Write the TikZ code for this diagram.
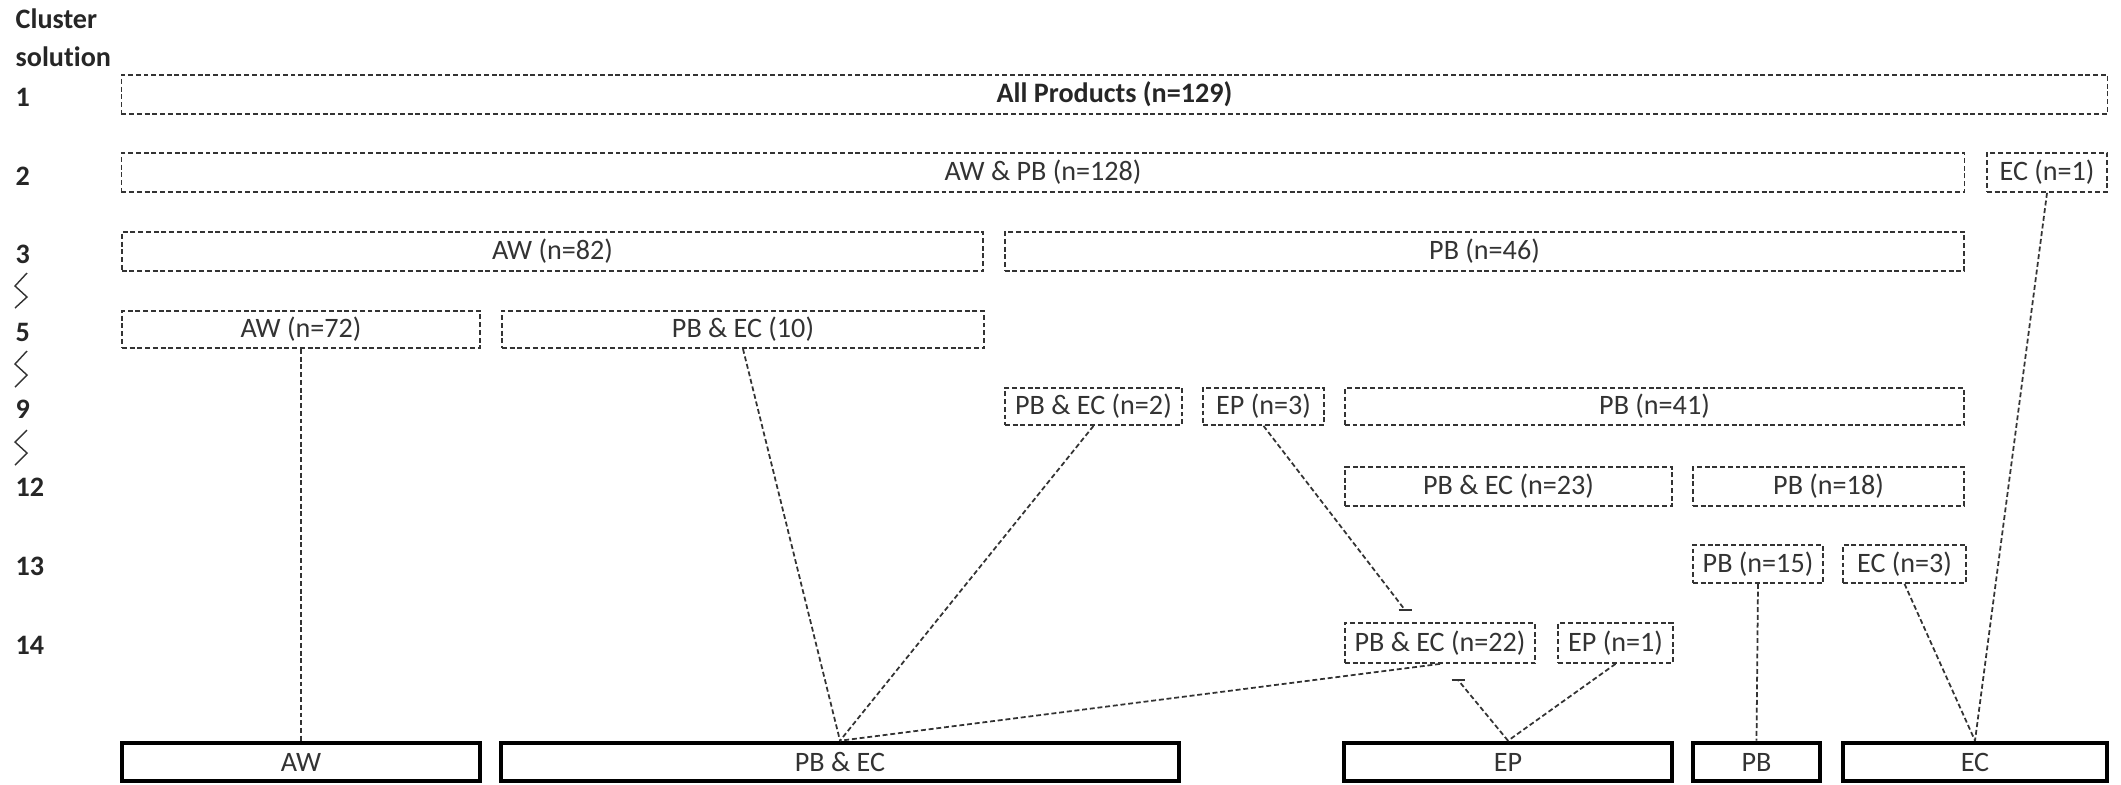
\documentclass[tikz,border=0pt]{standalone}
\usepackage{fontspec}
\setmainfont{Carlito}[Ligatures=NoCommon]
\begin{document}
\begin{tikzpicture}[x=0.01cm,y=-0.01cm,
  txt/.style={font=\fontsize{8}{9.6}\selectfont},
  dbox/.style={txt, draw=black!80, line width=0.5pt, dash pattern=on 1.4pt off 0.8pt, inner sep=0pt, text=black!80},
  sbox/.style={txt, draw=black, line width=1.3pt, inner sep=0pt, minimum height=0.38cm, text=black!80},
  lab/.style={anchor=west, inner sep=0pt, font=\fontsize{8}{9.6}\selectfont\bfseries, text=black!85},
  conn/.style={draw=black!80, line width=0.5pt, dash pattern=on 1.4pt off 0.8pt},
  zig/.style={draw=black!80, line width=0.4pt}]
\useasboundingbox (0,0) rectangle (2121,784);

% left labels
\node[lab] (hc) at (15,19) {Cluster};
\node[lab] (hs) at (15,57) {solution};
\node[lab] (l1) at (15,97) {1};
\node[lab] (l2) at (15,176) {2};
\node[lab] (l3) at (15,254) {3};
\node[lab] (l5) at (15,332) {5};
\node[lab] (l9) at (15,409) {9};
\node[lab] (l12) at (15,487) {12};
\node[lab] (l13) at (15,566) {13};
\node[lab] (l14) at (15,645) {14};

% zigzags
\draw[zig] (27,273) -- (15,286) -- (27,297) -- (15,308);
\draw[zig] (27,351) -- (15,364) -- (27,375) -- (15,387);
\draw[zig] (27,430) -- (15,442) -- (27,453) -- (15,465);

% row 1
\node[dbox, minimum width=19.85cm, minimum height=0.39cm, font=\fontsize{8}{9.6}\selectfont\bfseries, text=black!85] (r1) at (1114.5,94.5) {All Products (n=129)};
% row 2
\node[dbox, minimum width=18.42cm, minimum height=0.39cm] (r2a) at (1043,172.5) {AW \& PB (n=128)};
\node[dbox, minimum width=1.20cm, minimum height=0.39cm] (r2b) at (2047,172.5) {EC (n=1)};
% row 3
\node[dbox, minimum width=8.61cm, minimum height=0.39cm] (r3a) at (552.5,251.5) {AW (n=82)};
\node[dbox, minimum width=9.59cm, minimum height=0.39cm] (r3b) at (1484.5,251.5) {PB (n=46)};
% row 5
\node[dbox, minimum width=3.58cm, minimum height=0.37cm] (r5a) at (301,329.5) {AW (n=72)};
\node[dbox, minimum width=4.82cm, minimum height=0.37cm] (r5b) at (743,329.5) {PB \& EC (10)};
% row 9
\node[dbox, minimum width=1.77cm, minimum height=0.37cm] (r9a) at (1093.5,406.5) {PB \& EC (n=2)};
\node[dbox, minimum width=1.21cm, minimum height=0.37cm] (r9b) at (1263.5,406.5) {EP (n=3)};
\node[dbox, minimum width=6.19cm, minimum height=0.37cm] (r9c) at (1654.5,406.5) {PB (n=41)};
% row 12
\node[dbox, minimum width=3.27cm, minimum height=0.39cm] (r12a) at (1508.5,486.5) {PB \& EC (n=23)};
\node[dbox, minimum width=2.71cm, minimum height=0.39cm] (r12b) at (1828.5,486.5) {PB (n=18)};
% row 13
\node[dbox, minimum width=1.30cm, minimum height=0.38cm] (r13a) at (1758,564) {PB (n=15)};
\node[dbox, minimum width=1.23cm, minimum height=0.38cm] (r13b) at (1904.5,564) {EC (n=3)};
% row 14
\node[dbox, minimum width=1.90cm, minimum height=0.40cm] (r14a) at (1440,643) {PB \& EC (n=22)};
\node[dbox, minimum width=1.15cm, minimum height=0.40cm] (r14b) at (1615.5,643) {EP (n=1)};

% bottom row
\node[sbox, minimum width=3.58cm] (bAW) at (301,762) {AW};
\node[sbox, minimum width=6.78cm] (bPBEC) at (840,762) {PB \& EC};
\node[sbox, minimum width=3.28cm] (bEP) at (1508,762) {EP};
\node[sbox, minimum width=1.27cm] (bPB) at (1756.5,762) {PB};
\node[sbox, minimum width=2.64cm] (bEC) at (1975,762) {EC};

% connectors
\coordinate (t1) at (1405,610);
\coordinate (t2) at (1458,680);
\draw[conn] (r5a.south) -- (bAW.north);
\draw[conn] (r5b.south) -- (bPBEC.north);
\draw[conn] (r9a.south) -- (bPBEC.north);
\draw[conn] (r14a.south) -- (bPBEC.north);
\draw[conn] (r9b.south) -- (t1);
\draw[zig] (t1) +(-6.5,0) -- +(6.5,0);
\draw[conn] (bEP.north) -- (t2);
\draw[zig] (t2) +(-6.5,0) -- +(6.5,0);
\draw[conn] (r14b.south) -- (bEP.north);
\draw[conn] (r13a.south) -- (bPB.north);
\draw[conn] (r13b.south) -- (bEC.north);
\draw[conn] (r2b.south) -- (bEC.north);
\end{tikzpicture}
\end{document}
